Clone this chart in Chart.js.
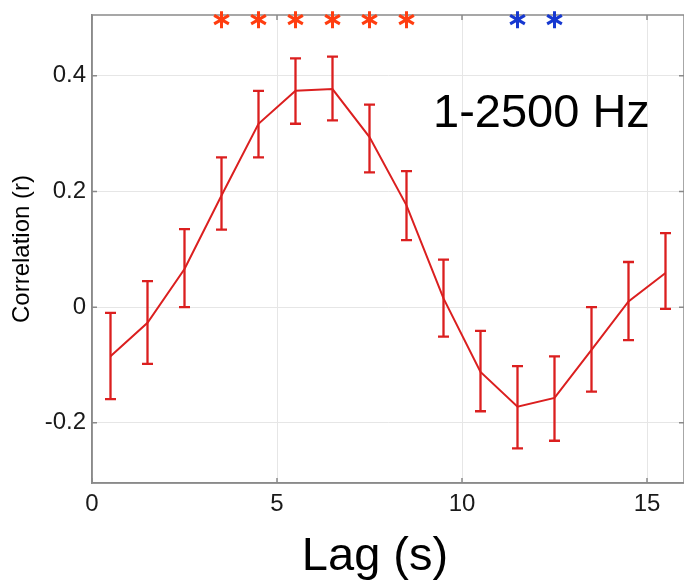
<!DOCTYPE html>
<html>
<head>
<meta charset="utf-8">
<script src="https://cdn.jsdelivr.net/npm/chart.js@4"></script>
<style>
  html, body { margin: 0; padding: 0; background: #fff; }
  canvas { display: block; }
</style>
</head>
<body>
<canvas id="lagChart" width="684" height="581"></canvas>
<script>
// lag bins (s) and mean correlation with error bar ends
const lags = [0.5, 1.5, 2.5, 3.5, 4.5, 5.5, 6.5, 7.5, 8.5, 9.5, 10.5, 11.5, 12.5, 13.5, 14.5, 15.5];
const meanR = [-0.085, -0.027, 0.066, 0.193, 0.317, 0.374, 0.377, 0.294, 0.176, 0.015, -0.112, -0.172, -0.157, -0.074, 0.010, 0.059];
const upperR = [-0.010, 0.045, 0.135, 0.259, 0.374, 0.430, 0.433, 0.350, 0.235, 0.082, -0.041, -0.102, -0.085, 0.000, 0.078, 0.128];
const lowerR = [-0.159, -0.098, 0.000, 0.134, 0.259, 0.317, 0.323, 0.233, 0.116, -0.051, -0.180, -0.244, -0.231, -0.146, -0.057, -0.003];

// significance markers
const sigPos = [3.5, 4.5, 5.5, 6.5, 7.5, 8.5];
const sigNeg = [11.5, 12.5];
const sigLevel = 0.497;

const xTicks = [0, 5, 10, 15];
const yTicks = [-0.2, 0, 0.2, 0.4];
const bandLabel = '1-2500 Hz';
const xTitle = 'Lag (s)';

const FONT = '"Liberation Sans", Arial, sans-serif';
const RED = '#db1f1f';
const AXIS = '#8a8a8a';

const extras = {
  id: 'extras',
  afterDatasetsDraw(chart) {
    const { ctx, scales: { x, y } } = chart;
    ctx.save();
    ctx.strokeStyle = RED;
    ctx.lineWidth = 2.3;
    lags.forEach((l, i) => {
      const px = x.getPixelForValue(l);
      const top = y.getPixelForValue(upperR[i]);
      const bot = y.getPixelForValue(lowerR[i]);
      ctx.beginPath();
      ctx.moveTo(px, top); ctx.lineTo(px, bot);
      ctx.moveTo(px - 5.5, top); ctx.lineTo(px + 5.5, top);
      ctx.moveTo(px - 5.5, bot); ctx.lineTo(px + 5.5, bot);
      ctx.stroke();
    });
    ctx.restore();
  },
  afterDraw(chart) {
    const { ctx, chartArea: a, scales: { x, y } } = chart;
    ctx.save();
    // box + inward ticks
    ctx.strokeStyle = AXIS;
    ctx.lineWidth = 1.5;
    ctx.strokeRect(a.left, a.top, a.right - a.left, a.bottom - a.top);
    ctx.beginPath();
    xTicks.forEach(t => {
      const px = x.getPixelForValue(t);
      ctx.moveTo(px, a.bottom); ctx.lineTo(px, a.bottom - 5);
      ctx.moveTo(px, a.top); ctx.lineTo(px, a.top + 5);
    });
    yTicks.forEach(t => {
      const py = y.getPixelForValue(t);
      ctx.moveTo(a.left, py); ctx.lineTo(a.left + 5, py);
      ctx.moveTo(a.right, py); ctx.lineTo(a.right - 5, py);
    });
    ctx.stroke();

    // asterisks
    const star = (l, color) => {
      const cx = x.getPixelForValue(l);
      const cy = y.getPixelForValue(sigLevel);
      const r = 8.5;
      ctx.strokeStyle = color;
      ctx.lineWidth = 3;
      ctx.beginPath();
      [90, 30, 150].forEach(d => {
        const t = d * Math.PI / 180;
        ctx.moveTo(cx - r * Math.cos(t), cy - r * Math.sin(t));
        ctx.lineTo(cx + r * Math.cos(t), cy + r * Math.sin(t));
      });
      ctx.stroke();
    };
    sigPos.forEach(l => star(l, '#ff3d10'));
    sigNeg.forEach(l => star(l, '#1638d0'));

    // band label and x title
    ctx.fillStyle = '#000';
    ctx.font = '47px ' + FONT;
    ctx.textBaseline = 'alphabetic';
    ctx.textAlign = 'left';
    ctx.fillText(bandLabel, 433, 127);
    ctx.textAlign = 'center';
    ctx.fillText(xTitle, 375, 570);
    ctx.restore();
  }
};

new Chart(document.getElementById('lagChart'), {
  type: 'line',
  data: {
    datasets: [{
      data: lags.map((l, i) => ({ x: l, y: meanR[i] })),
      borderColor: RED,
      borderWidth: 2,
      pointRadius: 0,
      tension: 0,
      fill: false
    }]
  },
  options: {
    responsive: false,
    animation: false,
    layout: { padding: { top: 15, right: 0, left: 0, bottom: 0 } },
    plugins: { legend: { display: false }, tooltip: { enabled: false } },
    scales: {
      x: {
        type: 'linear',
        min: 0,
        max: 16,
        afterBuildTicks: s => { s.ticks = xTicks.map(v => ({ value: v })); },
        afterFit: s => { s.height = 98; s.paddingLeft = 0; s.paddingRight = 0; },
        grid: { color: '#e6e6e6', drawTicks: false },
        border: { color: AXIS, width: 1.5 },
        ticks: { color: '#1a1a1a', padding: 7, font: { family: FONT, size: 24 }, callback: v => String(v) }
      },
      y: {
        min: -0.304,
        max: 0.505,
        afterBuildTicks: s => { s.ticks = yTicks.map(v => ({ value: v })); },
        afterFit: s => { s.width = 92; s.paddingTop = 0; s.paddingBottom = 0; },
        grid: { color: '#e6e6e6', drawTicks: false },
        border: { color: AXIS, width: 1.5 },
        ticks: { color: '#1a1a1a', padding: 6, font: { family: FONT, size: 24 }, callback: v => String(Math.round(v * 10) / 10) },
        title: { display: true, text: 'Correlation (r)', color: '#000', padding: { top: 8, bottom: 0 }, font: { family: FONT, size: 24 } }
      }
    }
  },
  plugins: [extras]
});
</script>
</body>
</html>
